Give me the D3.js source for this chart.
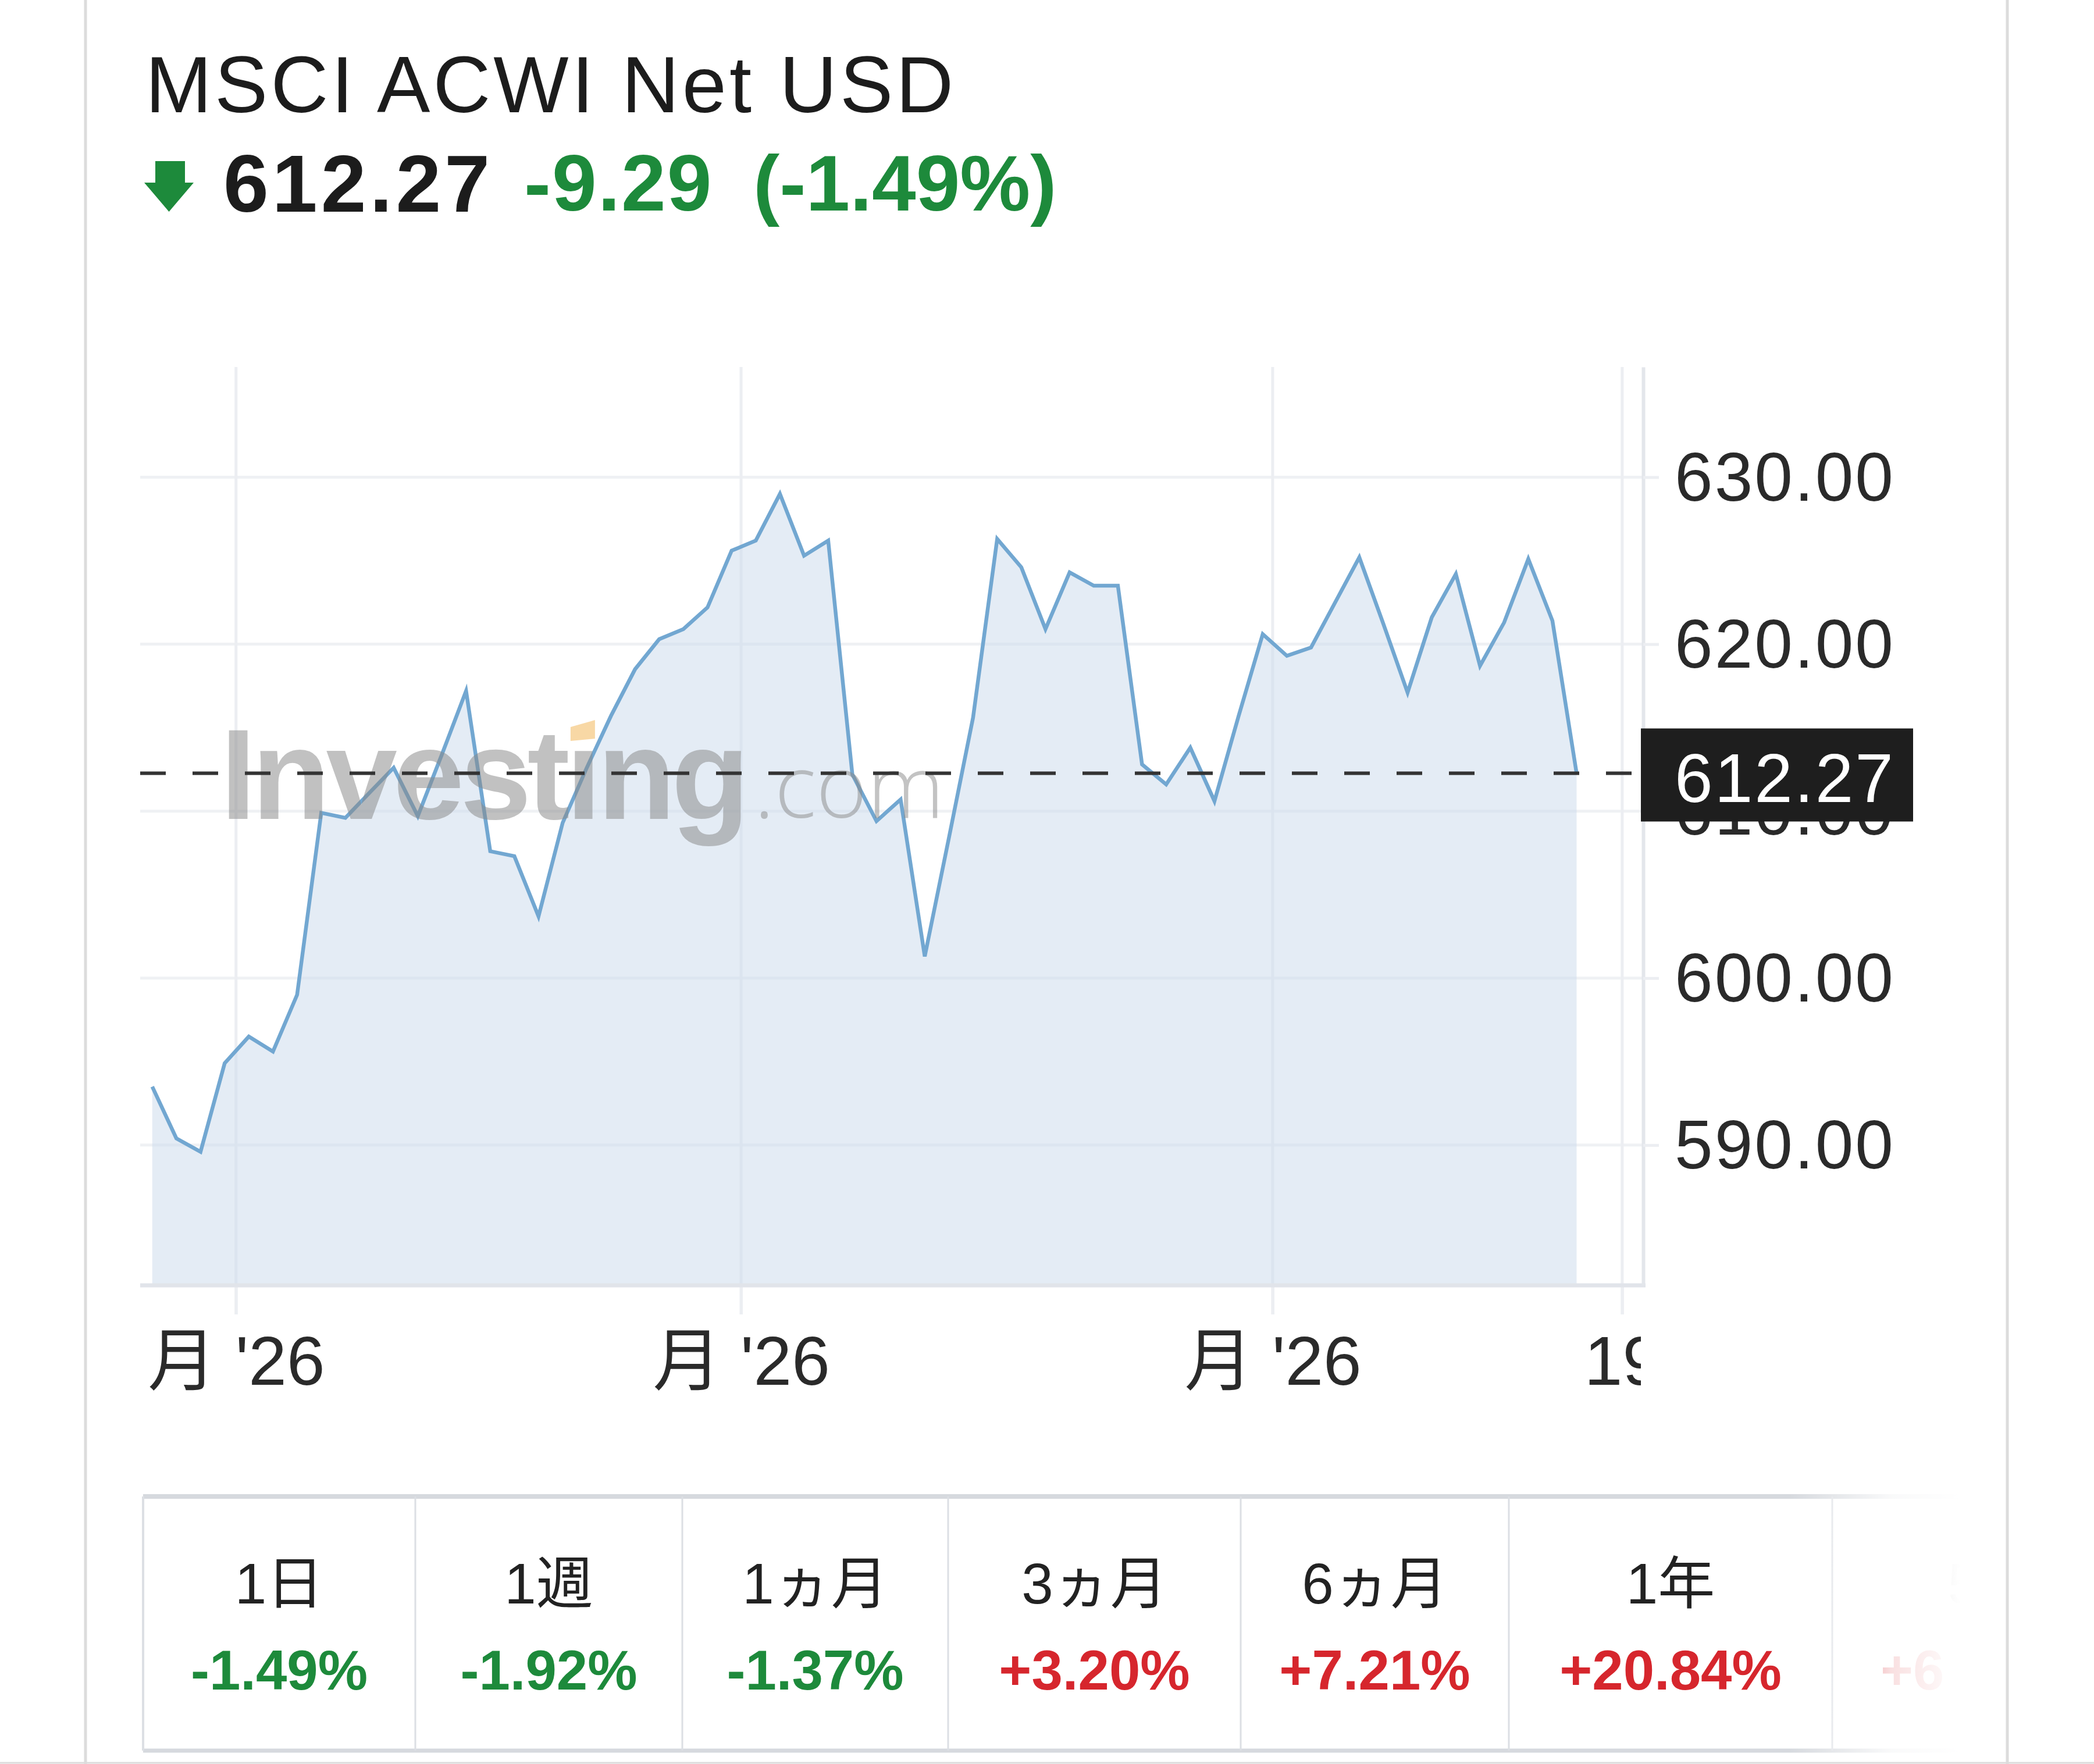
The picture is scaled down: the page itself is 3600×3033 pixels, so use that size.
<!DOCTYPE html>
<html><head><meta charset="utf-8">
<script src="https://cdn.jsdelivr.net/npm/d3@7/dist/d3.min.js"></script>
<style>
html,body{margin:0;padding:0;background:#fff;}
svg{display:block;}
</style></head><body>
<svg id="c" width="3600" height="3033"></svg>
<script>
// ---------- data ----------
const title = "MSCI ACWI Net USD";
const lastPrice = 612.27;
const lastPriceLabel = "612.27";
const changeAbs = "-9.29";
const changePct = "(-1.49%)";
const prices = [
  593.5, 590.4, 589.6, 594.9, 596.5, 595.6, 599.0, 609.9, 609.6, 611.1,
  612.6, 609.7, 613.4, 617.2, 607.6, 607.3, 603.7, 609.3, 612.6, 615.7,
  618.5, 620.3, 620.9, 622.2, 625.6, 626.2, 629.0, 625.3, 626.2, 612.2,
  609.4, 610.7, 601.3, 608.4, 615.6, 626.3, 624.6, 620.9, 624.3, 623.5,
  623.5, 612.8, 611.6, 613.8, 610.6, 615.7, 620.6, 619.3, 619.8, 622.5,
  625.2, 621.2, 617.1, 621.6, 624.2, 618.7, 621.3, 625.1, 621.4, 612.27
];
const yTicks = [590, 600, 610, 620, 630];
const xTickPos = [3.47, 24.39, 46.41, 60.89];
const xTickLabels = ["月 '26", "月 '26", "月 '26", "19"];
const periodLabels = ["1日", "1週", "1ヵ月", "3ヵ月", "6ヵ月", "1年", "5年"];
const periodValues = ["-1.49%", "-1.92%", "-1.37%", "+3.20%", "+7.21%", "+20.84%", "+6"];

// ---------- layout ----------
const FONT = "'Liberation Sans', Arial, 'Noto Sans CJK JP', sans-serif";
const GREEN = "#1d8a3b", RED = "#d6262d", INK = "#1c1c1c";
const plot = {left: 241, right: 2825, top: 631, bottom: 2210};
const svg = d3.select("#c");

const x = d3.scaleLinear().domain([-0.5, 61.76]).range([plot.left, plot.right]);
const y = d3.scaleLinear().domain([581.6, 636.6]).range([plot.bottom, plot.top]);

svg.append("rect").attr("x", 0).attr("y", 0).attr("width", 3600).attr("height", 3033).attr("fill", "#fff");

// ---------- header ----------
svg.append("text").attr("x", 250).attr("y", 193).attr("font-family", FONT).attr("font-size", 137)
  .attr("letter-spacing", 5).attr("fill", INK).text(title);
svg.append("path").attr("fill", GREEN)
  .attr("d", "M267,277 L318,277 L318,314 L333,314 L290.5,364 L248,314 L267,314 Z");
svg.append("text").attr("x", 384).attr("y", 364).attr("font-family", FONT).attr("font-size", 140)
  .attr("font-weight", "bold").attr("letter-spacing", 6).attr("fill", INK).text(lastPriceLabel);
svg.append("text").attr("x", 901).attr("y", 362).attr("font-family", FONT).attr("font-size", 138)
  .attr("font-weight", "bold").attr("letter-spacing", 2).attr("fill", GREEN).text(changeAbs);
svg.append("text").attr("x", 1295).attr("y", 362).attr("font-family", FONT).attr("font-size", 136)
  .attr("font-weight", "bold").attr("fill", GREEN).text(changePct);

// ---------- grid ----------
const grid = svg.append("g");
grid.selectAll("line.h").data(yTicks).join("line").attr("class", "h")
  .attr("x1", plot.left).attr("x2", plot.right).attr("y1", d => y(d)).attr("y2", d => y(d))
  .attr("stroke", "#eff1f4").attr("stroke-width", 5);
grid.selectAll("line.v").data(xTickPos).join("line").attr("class", "v")
  .attr("x1", d => x(d)).attr("x2", d => x(d)).attr("y1", plot.top).attr("y2", plot.bottom + 50)
  .attr("stroke", "#eceef2").attr("stroke-width", 5);

// ---------- area + line ----------
const area = d3.area().x((d, i) => x(i)).y0(plot.bottom).y1(d => y(d));
const line = d3.line().x((d, i) => x(i)).y(d => y(d));
svg.append("path").datum(prices).attr("d", area).attr("fill", "#c9d9ec").attr("fill-opacity", 0.5);
svg.append("path").datum(prices).attr("d", line).attr("fill", "none")
  .attr("stroke", "#72a7d1").attr("stroke-width", 6.5).attr("stroke-linejoin", "miter");

// ---------- watermark ----------
const wm = svg.append("g");
const wmText = wm.append("text").attr("x", 379).attr("y", 1408).attr("font-family", "'Liberation Sans', Arial, sans-serif")
  .attr("font-size", 220).attr("font-weight", "bold").attr("letter-spacing", -7)
  .attr("fill", "#888").attr("fill-opacity", 0.52).text("Investıng");
try {
  const ext = wmText.node().getExtentOfChar(6);
  const cx = ext.x + ext.width / 2 + 2;
  wm.append("path").attr("fill", "#f2b24c").attr("fill-opacity", 0.5)
    .attr("d", `M${cx - 21},1250 L${cx + 21},1238 L${cx + 21},1270 L${cx - 21},1274 Z`);
} catch (e) {}
wm.append("text").attr("x", 1296).attr("y", 1406).attr("font-family", "'Open Sans', 'Liberation Sans', sans-serif")
  .attr("font-size", 150).attr("font-weight", 300).attr("fill", "#888").attr("fill-opacity", 0.5).text(".com");

// ---------- last price dashed line ----------
const yLast = y(lastPrice);
svg.append("line").attr("x1", plot.left).attr("x2", 2821).attr("y1", yLast).attr("y2", yLast)
  .attr("stroke", "#333").attr("stroke-width", 6).attr("stroke-dasharray", "44 46");

// ---------- x axis ----------
svg.append("clipPath").attr("id", "xclip").append("rect").attr("x", 0).attr("y", 0).attr("width", 2821).attr("height", 3033);
const xAxis = svg.append("g").attr("transform", `translate(0,${plot.bottom})`).attr("clip-path", "url(#xclip)")
  .call(d3.axisBottom(x).tickValues(xTickPos).tickSize(50).tickSizeOuter(0).tickPadding(37)
    .tickFormat((d, i) => xTickLabels[i]));
xAxis.select(".domain").remove();
xAxis.selectAll(".tick line").attr("stroke", "#eceef2").attr("stroke-width", 5);
xAxis.selectAll(".tick text").attr("font-family", FONT).attr("font-size", 118).attr("fill", "#2a2a2a");
svg.append("line").attr("x1", plot.left).attr("x2", plot.right + 4).attr("y1", plot.bottom).attr("y2", plot.bottom)
  .attr("stroke", "#e1e4ea").attr("stroke-width", 7);

// ---------- y axis (right) ----------
const yAxis = svg.append("g").attr("transform", `translate(${plot.right},0)`)
  .call(d3.axisRight(y).tickValues(yTicks).tickSize(27).tickSizeOuter(0).tickPadding(27).tickFormat(d3.format(".2f")));
yAxis.select(".domain").attr("stroke", "#e3e6eb").attr("stroke-width", 6);
yAxis.selectAll(".tick line").attr("stroke", "#eceef2").attr("stroke-width", 5);
yAxis.selectAll(".tick text").attr("font-family", FONT).attr("font-size", 118).attr("letter-spacing", 3)
  .attr("fill", "#2a2a2a").attr("dy", "0.34em");

// price tag
svg.append("rect").attr("x", 2821).attr("y", yLast - 77).attr("width", 468).attr("height", 160).attr("fill", "#1e1e1e");
svg.append("text").attr("x", 2879).attr("y", yLast + 50).attr("font-family", FONT).attr("font-size", 118)
  .attr("letter-spacing", 3).attr("fill", "#fff").text(lastPriceLabel);

// ---------- period table ----------
const colEdges = [246, 714, 1173, 1630, 2133, 2594, 3150, 3700];
const tbl = svg.append("g");
const tTop = 2573, tBot = 3010;
tbl.append("line").attr("x1", 246).attr("x2", 3450).attr("y1", tTop).attr("y2", tTop).attr("stroke", "#d6d9de").attr("stroke-width", 8);
tbl.append("line").attr("x1", 246).attr("x2", 3450).attr("y1", tBot).attr("y2", tBot).attr("stroke", "#d6d9de").attr("stroke-width", 7);
tbl.selectAll("line.sep").data(colEdges.slice(0, 7)).join("line").attr("class", "sep")
  .attr("x1", d => d).attr("x2", d => d).attr("y1", tTop).attr("y2", tBot)
  .attr("stroke", "#dcdfe4").attr("stroke-width", d => d === 246 ? 4 : 3);
const centers = colEdges.slice(0, 7).map((d, i) => i < 6 ? (d + colEdges[i + 1]) / 2 : 3425);
tbl.selectAll("text.lab").data(periodLabels).join("text").attr("class", "lab")
  .attr("x", (d, i) => centers[i]).attr("y", 2757).attr("text-anchor", "middle")
  .attr("font-family", FONT).attr("font-size", 98).attr("fill", "#222").text(d => d);
tbl.selectAll("text.val").data(periodValues).join("text").attr("class", "val")
  .attr("x", (d, i) => i < 6 ? centers[i] : 3233).attr("y", 2905)
  .attr("text-anchor", (d, i) => i < 6 ? "middle" : "start")
  .attr("font-family", FONT).attr("font-size", 96).attr("font-weight", "bold")
  .attr("fill", d => d.startsWith("-") ? GREEN : RED).text(d => d);

// fade-out on the right of the table
const defs = svg.append("defs");
const grad = defs.append("linearGradient").attr("id", "fade").attr("x1", "0").attr("x2", "1").attr("y1", "0").attr("y2", "0");
grad.append("stop").attr("offset", "0").attr("stop-color", "#fff").attr("stop-opacity", 0);
grad.append("stop").attr("offset", "0.6").attr("stop-color", "#fff").attr("stop-opacity", 0.86);
grad.append("stop").attr("offset", "1").attr("stop-color", "#fff").attr("stop-opacity", 1);
svg.append("rect").attr("x", 3075).attr("y", 2555).attr("width", 295).attr("height", 470).attr("fill", "url(#fade)");
svg.append("rect").attr("x", 3369).attr("y", 2555).attr("width", 240).attr("height", 470).attr("fill", "#fff");

// card borders (on top)
svg.append("line").attr("x1", 147).attr("x2", 147).attr("y1", 0).attr("y2", 3033).attr("stroke", "#dcdcdc").attr("stroke-width", 5);
svg.append("line").attr("x1", 3451).attr("x2", 3451).attr("y1", 0).attr("y2", 3033).attr("stroke", "#dcdcdc").attr("stroke-width", 5);
svg.append("line").attr("x1", 0).attr("x2", 3600).attr("y1", 3031).attr("y2", 3031).attr("stroke", "#dcdcdc").attr("stroke-width", 3);
</script>
</body></html>
